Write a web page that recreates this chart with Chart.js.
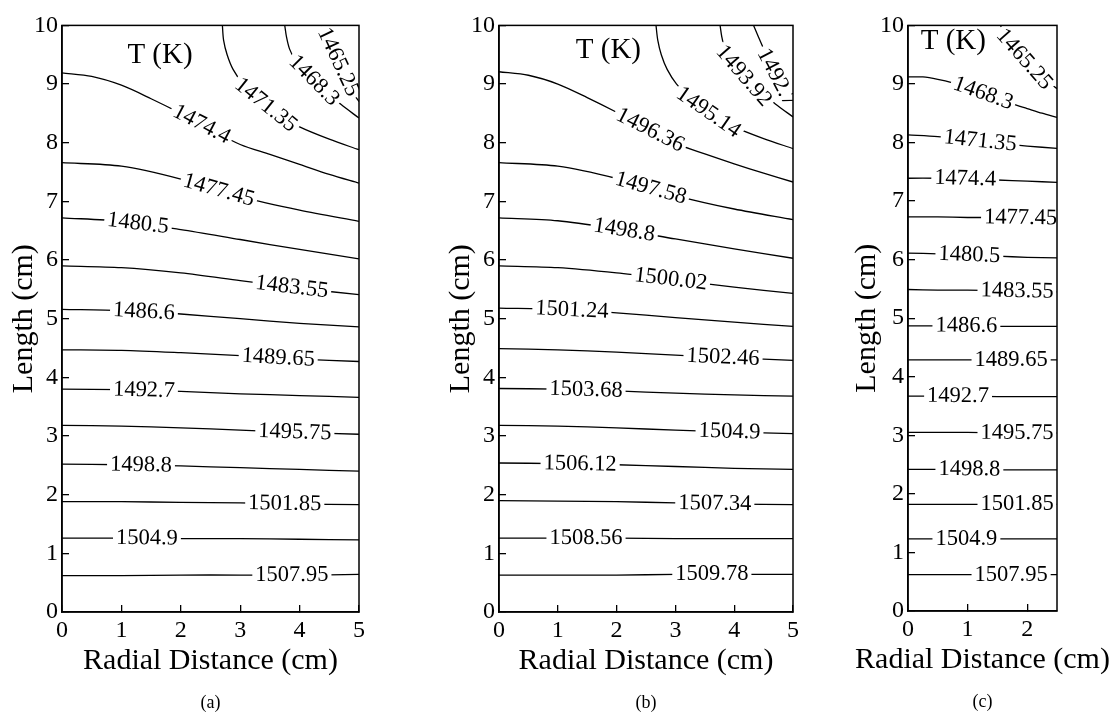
<!DOCTYPE html>
<html><head><meta charset="utf-8">
<script src="https://cdn.jsdelivr.net/npm/chart.js@4.4.1/dist/chart.umd.min.js"></script>
<style>
html,body{margin:0;padding:0;background:#fff;width:1117px;height:717px;overflow:hidden;position:relative}
canvas{position:absolute;top:0}
</style></head><body>
<canvas id="ca" width="380" height="717" style="left:0px"></canvas>
<canvas id="cb" width="430" height="717" style="left:380px"></canvas>
<canvas id="cc" width="317" height="717" style="left:800px"></canvas>
<script>
// ---------- Panel (a) ----------
const levelsA = ['1465.25','1468.3','1471.35','1474.4','1477.45','1480.5','1483.55','1486.6','1489.65','1492.7','1495.75','1498.8','1501.85','1504.9','1507.95'];
const gridA = [0,1,2,3,4,5];
const halfA = [0,0.5,1,1.5,2,2.5,3,3.5,4,4.5,5];
const radialA = [
  [4.38,4.55,4.75,4.9,5.0],
  [3.75,3.78,3.83,3.93,4.08,4.25,4.45,4.7,5.0],
  [2.70,2.72,2.78,2.88,3.05,3.3,3.6,4.0,4.5,5.0],
  halfA, gridA, gridA, gridA, gridA, gridA, gridA, gridA, gridA, gridA, gridA, gridA
];
const lengthA = [
  [10,9.6,9.15,8.85,8.7],
  [10,9.8,9.6,9.4,9.2,9.05,8.87,8.65,8.42],
  [10,9.75,9.5,9.25,9.0,8.75,8.5,8.27,8.06,7.88],
  [9.19,9.13,8.98,8.75,8.50,8.23,7.97,7.80,7.63,7.46,7.31],
  [7.66,7.60,7.38,7.08,6.85,6.66],
  [6.72,6.66,6.52,6.35,6.18,6.02],
  [5.90,5.87,5.78,5.65,5.52,5.41],
  [5.16,5.14,5.08,5.00,4.92,4.86],
  [4.47,4.46,4.42,4.37,4.31,4.27],
  [3.80,3.79,3.76,3.72,3.69,3.66],
  [3.18,3.17,3.14,3.10,3.06,3.03],
  [2.52,2.51,2.49,2.46,2.43,2.40],
  [1.88,1.88,1.87,1.86,1.84,1.83],
  [1.26,1.26,1.25,1.25,1.24,1.23],
  [0.62,0.62,0.63,0.63,0.63,0.64]
];
const labelAtA = [4.65,4.24,3.43,2.35,2.64,1.28,3.87,1.38,3.64,1.38,3.92,1.33,3.75,1.43,3.87];

// ---------- Panel (b) ----------
const levelsB = ['1492.7','1493.92','1495.14','1496.36','1497.58','1498.8','1500.02','1501.24','1502.46','1503.68','1504.9','1506.12','1507.34','1508.56','1509.78'];
const gridB = [0,1,2,3,4,5];
const halfB = [0,0.5,1,1.5,2,2.5,3,3.5,4,4.5,5];
const radialB = [
  [4.33,4.5,4.7,4.86,5.0],
  [3.76,3.79,3.84,3.94,4.09,4.26,4.46,4.7,5.0],
  [2.67,2.70,2.76,2.86,3.02,3.28,3.58,4.0,4.5,5.0],
  halfB, gridB, gridB, gridB, gridB, gridB, gridB, gridB, gridB, gridB, gridB, gridB
];
const lengthB = [
  [10,9.6,9.15,8.85,8.65],
  [10,9.8,9.6,9.4,9.2,9.05,8.87,8.66,8.44],
  [10,9.75,9.5,9.25,9.0,8.75,8.5,8.27,8.07,7.90],
  [9.21,9.15,9.00,8.77,8.52,8.25,7.99,7.81,7.64,7.48,7.33],
  [7.66,7.60,7.39,7.10,6.87,6.69],
  [6.72,6.67,6.53,6.36,6.19,6.03],
  [5.90,5.87,5.78,5.66,5.54,5.43],
  [5.18,5.16,5.10,5.02,4.94,4.87],
  [4.49,4.47,4.43,4.38,4.33,4.29],
  [3.81,3.80,3.77,3.73,3.70,3.68],
  [3.18,3.17,3.14,3.10,3.07,3.04],
  [2.54,2.53,2.51,2.48,2.45,2.43],
  [1.90,1.89,1.88,1.86,1.84,1.83],
  [1.26,1.26,1.26,1.25,1.25,1.25],
  [0.63,0.63,0.63,0.64,0.64,0.64]
];
const labelAtB = [4.72,4.16,3.56,2.57,2.58,2.13,2.92,1.24,3.81,1.48,3.92,1.38,3.67,1.48,3.62];

// ---------- Panel (c) ----------
const levelsC = ['1465.25','1468.3','1471.35','1474.4','1477.45','1480.5','1483.55','1486.6','1489.65','1492.7','1495.75','1498.8','1501.85','1504.9','1507.95'];
const gridC = [0,0.5,1,1.5,2,2.5];
const fineC = [0,0.25,0.5,0.75,1,1.25,1.5,1.75,2,2.25,2.5];
const radialC = [
  [1.55,1.7,1.95,2.2,2.5],
  fineC, gridC, gridC, gridC, gridC, gridC, gridC, gridC, gridC, gridC, gridC, gridC, gridC, gridC
];
const lengthC = [
  [10,9.75,9.42,9.15,8.92],
  [9.12,9.12,9.08,9.02,8.94,8.84,8.75,8.66,8.58,8.50,8.43],
  [8.13,8.10,8.05,7.99,7.94,7.90],
  [7.39,7.39,7.38,7.36,7.34,7.32],
  [6.73,6.73,6.72,6.72,6.71,6.70],
  [6.11,6.10,6.08,6.06,6.04,6.03],
  [5.49,5.48,5.48,5.47,5.46,5.45],
  [4.87,4.87,4.87,4.86,4.86,4.86],
  [4.29,4.29,4.29,4.29,4.29,4.29],
  [3.67,3.67,3.67,3.66,3.66,3.66],
  [3.05,3.05,3.05,3.04,3.04,3.04],
  [2.42,2.42,2.42,2.41,2.41,2.41],
  [1.82,1.82,1.82,1.82,1.82,1.82],
  [1.23,1.23,1.23,1.23,1.23,1.23],
  [0.62,0.62,0.62,0.62,0.62,0.62]
];
const labelAtC = [1.95,1.26,1.21,0.96,1.89,1.03,1.83,0.98,1.73,0.84,1.83,1.03,1.83,0.98,1.73];

const tickX_AB = [0,1,2,3,4,5];
const tickX_C = [0,1,2];
const tickY = [0,1,2,3,4,5,6,7,8,9,10];

// ---------- helpers ----------
const SERIF = '"Liberation Serif", "Times New Roman", serif';
function cumLen(p){const c=[0];for(let i=1;i<p.length;i++)c.push(c[i-1]+Math.hypot(p[i].x-p[i-1].x,p[i].y-p[i-1].y));return c;}
function pointAt(p,c,s){
  const n=p.length;
  if(s<=0){const L=c[1]||1;return{x:p[0].x+(p[1].x-p[0].x)*s/L,y:p[0].y+(p[1].y-p[0].y)*s/L};}
  if(s>=c[n-1]){const L=(c[n-1]-c[n-2])||1,e=s-c[n-1];return{x:p[n-1].x+(p[n-1].x-p[n-2].x)*e/L,y:p[n-1].y+(p[n-1].y-p[n-2].y)*e/L};}
  for(let i=1;i<n;i++){if(s<=c[i]){const t=(s-c[i-1])/((c[i]-c[i-1])||1);return{x:p[i-1].x+(p[i].x-p[i-1].x)*t,y:p[i-1].y+(p[i].y-p[i-1].y)*t};}}
  return p[n-1];
}
function sAtX(p,c,px){
  for(let i=1;i<p.length;i++){const a=p[i-1],b=p[i];if((px-a.x)*(px-b.x)<=0&&a.x!==b.x){const t=(px-a.x)/(b.x-a.x);return c[i-1]+t*(c[i]-c[i-1]);}}
  return c[c.length-1]/2;
}

const panelInfo = {};

const decor = {
  id:'decor',
  afterDatasetsDraw(chart){
    const info = panelInfo[chart.canvas.id];
    const {ctx, chartArea:ca, scales:{x}} = chart;
    ctx.save();
    ctx.beginPath(); ctx.rect(ca.left, ca.top, ca.right-ca.left, ca.bottom-ca.top); ctx.clip();
    ctx.font = '22.5px ' + SERIF;
    chart.data.datasets.forEach((ds,i)=>{
      const meta = chart.getDatasetMeta(i);
      const pts = meta.data.map(e=>({x:e.x,y:e.y}));
      const cum = cumLen(pts);
      const s0 = sAtX(pts, cum, x.getPixelForValue(info.labelAt[i]));
      const w = ctx.measureText(ds.label).width;
      const c = pointAt(pts,cum,s0), a = pointAt(pts,cum,s0-w/2), b = pointAt(pts,cum,s0+w/2);
      const ang = Math.atan2(b.y-a.y, b.x-a.x);
      ctx.save();
      ctx.translate(c.x,c.y); ctx.rotate(ang);
      ctx.fillStyle='#fff'; ctx.fillRect(-w/2-3,-7,w+6,14);
      ctx.fillStyle='#000'; ctx.textAlign='center'; ctx.textBaseline='middle';
      ctx.fillText(ds.label,0,0);
      ctx.restore();
    });
    ctx.restore();
  },
  afterDraw(chart){
    const info = panelInfo[chart.canvas.id];
    const {ctx, chartArea:ca, scales:{x,y}} = chart;
    ctx.save();
    ctx.strokeStyle='#000'; ctx.lineWidth=1.5;
    ctx.strokeRect(ca.left, ca.top, ca.right-ca.left, ca.bottom-ca.top);
    ctx.fillStyle='#000'; ctx.textAlign='center'; ctx.textBaseline='middle';
    ctx.font = '29px ' + SERIF;
    ctx.fillText('T (K)', x.getPixelForValue(info.tk[0]), y.getPixelForValue(info.tk[1]));
    ctx.font = '30px ' + SERIF;
    ctx.fillText(x.options.title.text, (ca.left+ca.right)/2, ca.bottom+49);
    ctx.font = '18px ' + SERIF;
    ctx.fillText(info.tag, (ca.left+ca.right)/2, ca.bottom+91);
    ctx.restore();
  }
};

function makeChart(id, levels, radial, length, labelAt, xMax, xTicks, pad, yWidth, xHeight, tk, tag){
  panelInfo[id] = {labelAt, tk, tag};
  const datasets = levels.map((lv,i)=>({
    label: lv,
    data: radial[i].map((r,j)=>({x:r, y:length[i][j]})),
    borderColor:'#000', borderWidth:1.3, pointRadius:0, tension:0.3, fill:false
  }));
  const axisCommon = {
    type:'linear',
    border:{display:true, color:'#000', width:1.5},
    grid:{display:true, drawOnChartArea:false, drawTicks:true, tickLength:-7, color:'#000', lineWidth:1.3},
  };
  new Chart(document.getElementById(id), {
    type:'line',
    data:{datasets},
    options:{
      responsive:false, animation:false, devicePixelRatio:1,
      layout:{padding:pad},
      plugins:{legend:{display:false}, tooltip:{enabled:false}},
      scales:{
        x:{...axisCommon, min:0, max:xMax,
          afterBuildTicks:(s)=>{s.ticks = xTicks.map(v=>({value:v}));},
          ticks:{color:'#000', font:{family:SERIF, size:24}, padding:11, maxRotation:0, autoSkip:false, includeBounds:false},
          title:{display:false, text:'Radial Distance (cm)'},
          afterFit:(s)=>{s.height = xHeight;}
        },
        y:{...axisCommon, min:0, max:10,
          afterBuildTicks:(s)=>{s.ticks = tickY.map(v=>({value:v}));},
          ticks:{color:'#000', font:{family:SERIF, size:24}, padding:11, autoSkip:false},
          title:{display:true, text:'Length (cm)', color:'#000', font:{family:SERIF, size:30, lineHeight:1}, padding:{top:9, bottom:0}},
          afterFit:(s)=>{s.width = yWidth;}
        }
      }
    },
    plugins:[decor]
  });
}

makeChart('ca', levelsA, radialA, lengthA, labelAtA, 5, tickX_AB, {left:0, top:17, right:21, bottom:30}, 62, 75, [1.65,9.49], '(a)');
makeChart('cb', levelsB, radialB, lengthB, labelAtB, 5, tickX_AB, {left:57, top:17, right:13, bottom:30}, 62, 75, [1.86,9.57], '(b)');
makeChart('cc', levelsC, radialC, lengthC, labelAtC, 2.5, tickX_C, {left:43, top:17, right:60, bottom:30}, 65, 76, [0.76,9.72], '(c)');
</script>
</body></html>
